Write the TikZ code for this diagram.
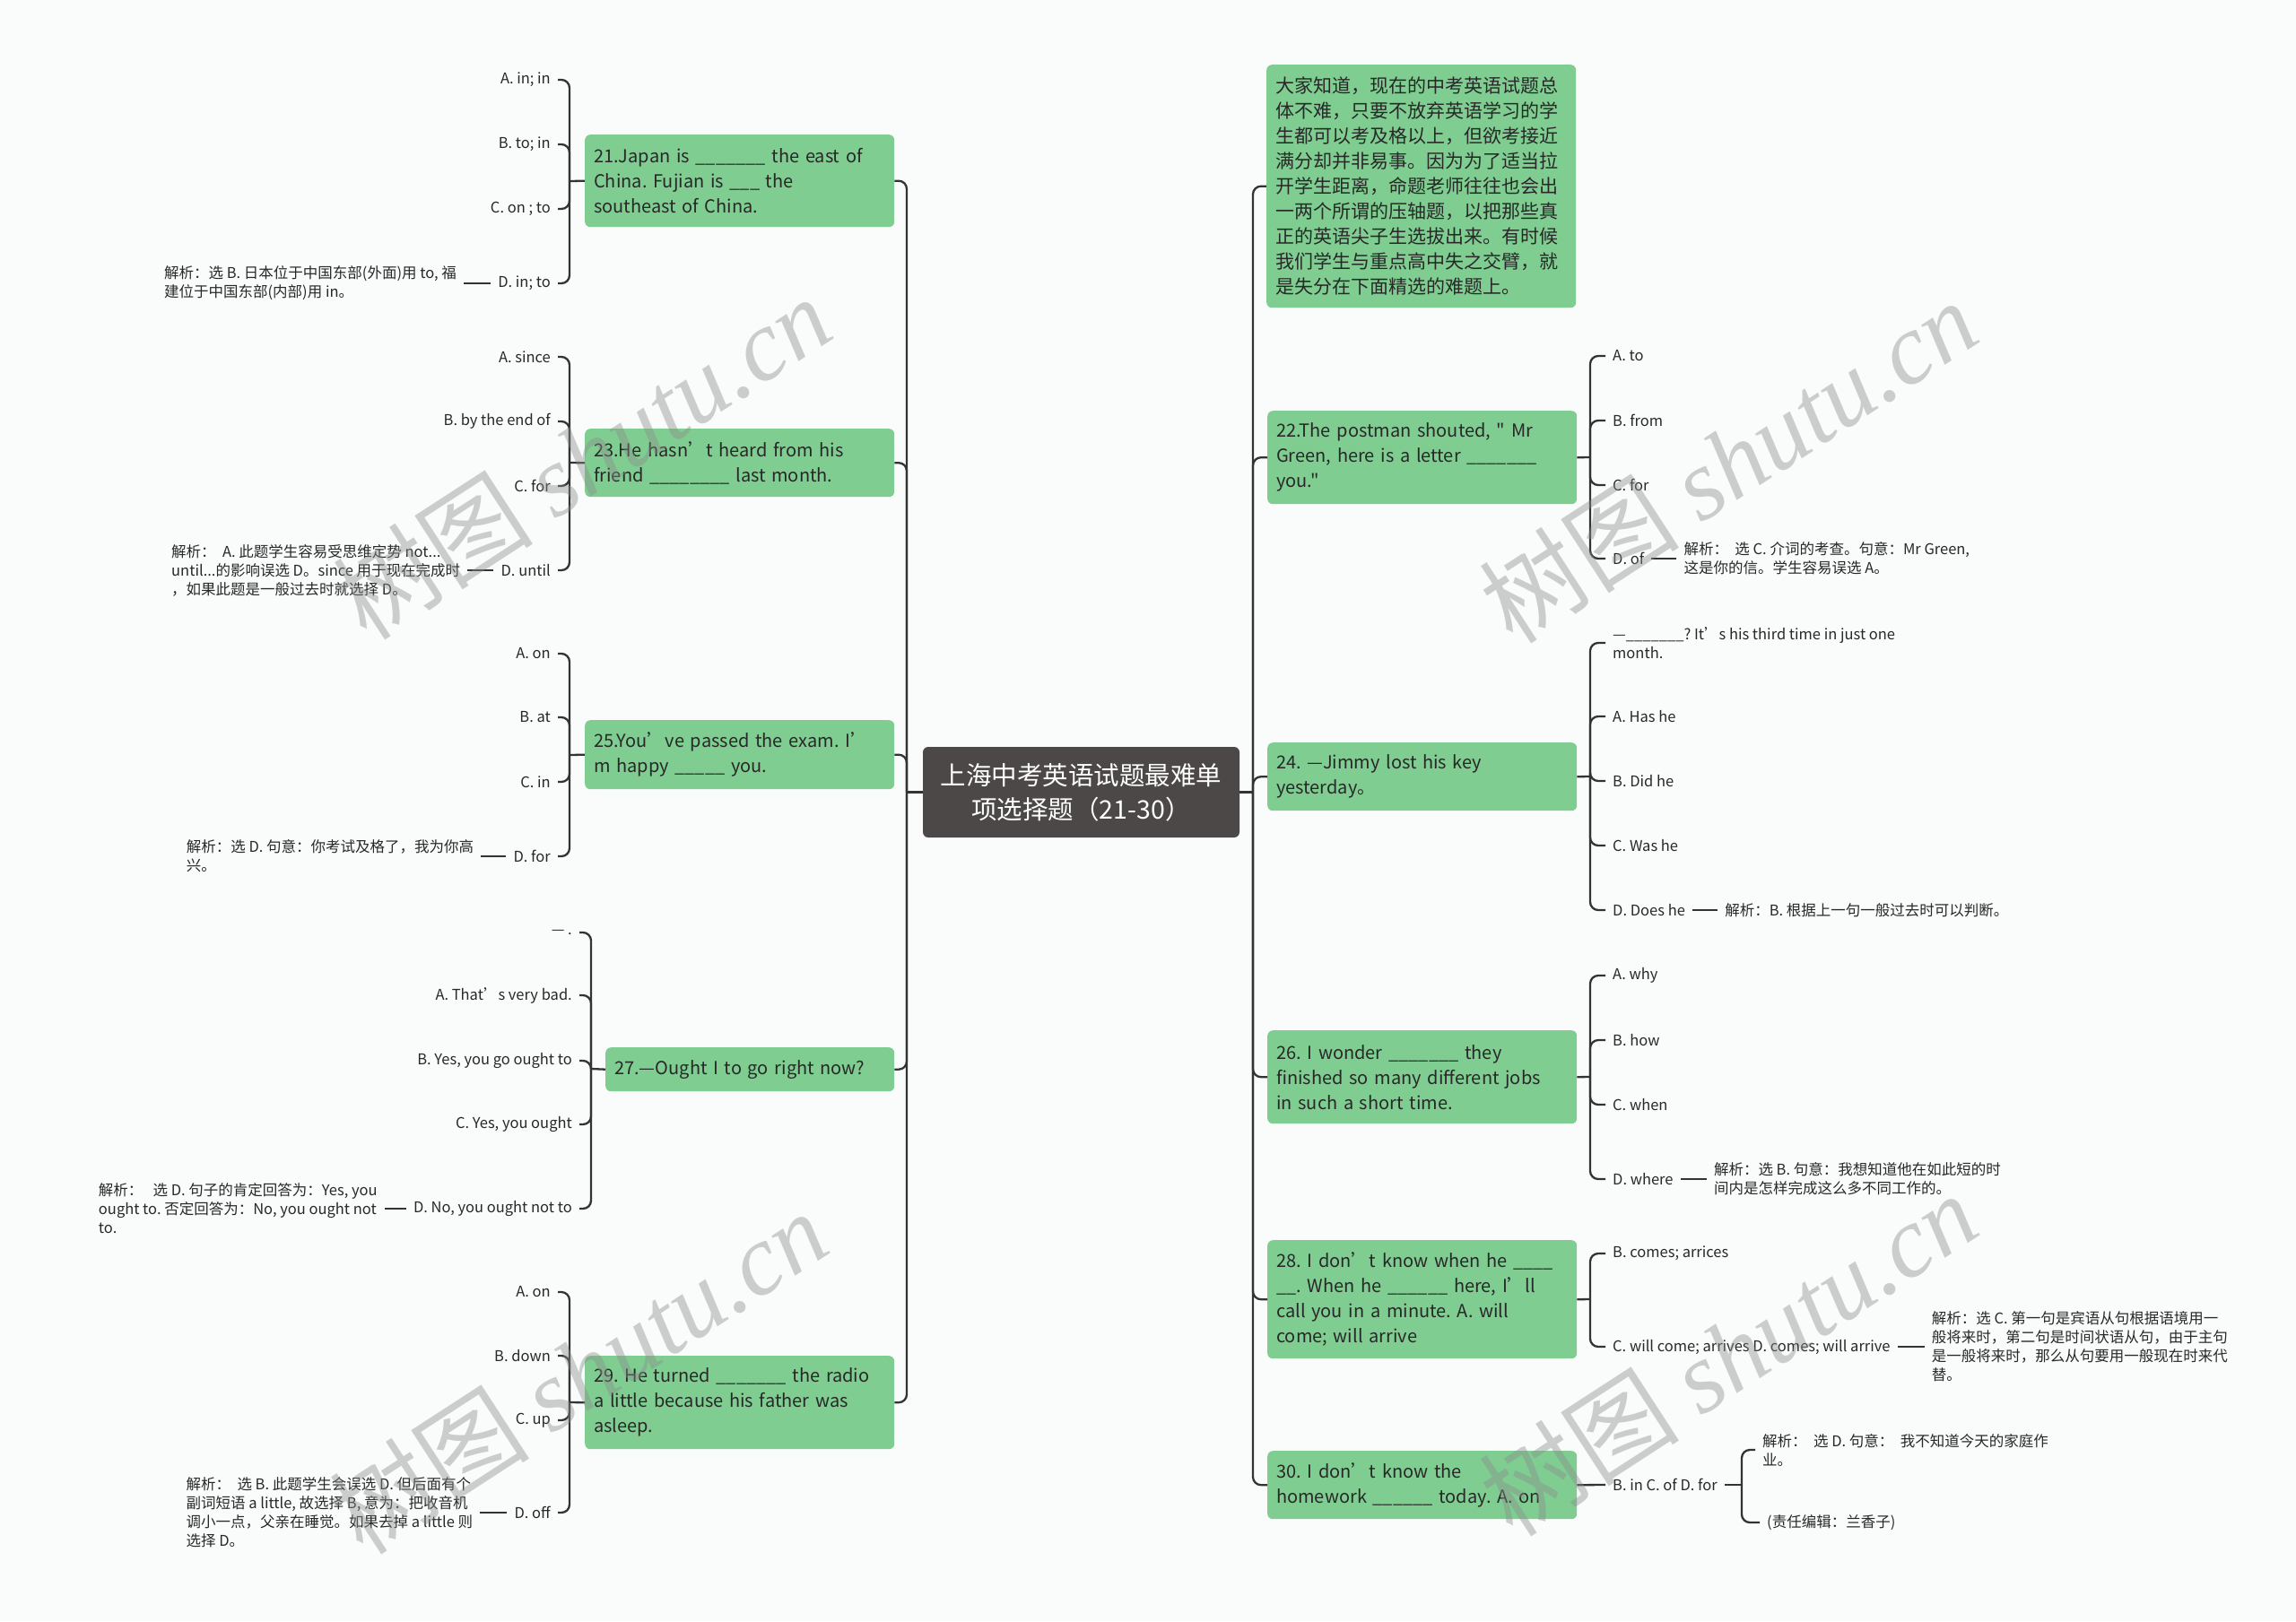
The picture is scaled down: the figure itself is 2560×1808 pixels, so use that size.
\documentclass[tikz,border=0pt]{standalone}
\usepackage{fontspec}
\setmainfont{Noto Sans CJK SC}[Ligatures=TeXOff]
\newfontfamily\wmlatin{Liberation Serif}
\usetikzlibrary{positioning}
\definecolor{bgc}{RGB}{250,252,252}
\definecolor{boxg}{RGB}{127,205,145}
\definecolor{rootc}{RGB}{77,72,72}
\definecolor{linec}{RGB}{51,51,51}
\definecolor{txtc}{RGB}{40,40,40}
\definecolor{wmc}{RGB}{140,140,140}
\frenchspacing
\begin{document}
\begin{tikzpicture}[x=1pt,y=-1pt,
  topicbox/.style={fill=boxg, rounded corners=6pt, text=txtc, font=\fontsize{20}{28}\selectfont\frenchspacing,
    align=left, text width=325pt, inner xsep=10pt, inner ysep=0pt, anchor=north west},
  rootbox/.style={fill=rootc, rounded corners=6pt, text=white, font=\fontsize{28.5}{38}\selectfont,
    align=center, inner sep=0pt},
  opt/.style={text=txtc, font=\fontsize{16.5}{21}\selectfont\frenchspacing, inner xsep=8pt, inner ysep=2pt},
  lopt/.style={opt, anchor=east},
  ropt/.style={opt, anchor=west},
  expl/.style={opt, align=left},
  conn/.style={draw=linec, line width=2.3pt, rounded corners=9pt},
  wm/.style={text=wmc, text opacity=0.42, font=\fontsize{112}{112}\selectfont, inner sep=0pt}]
\fill[bgc] (0,0) rectangle (2560,1808);
\useasboundingbox (0,0) rectangle (2560,1808);

% root
\node[rootbox, minimum width=353pt, minimum height=101pt] (root) at (1205.5,883.5) {上海中考英语试题最难单\\项选择题（21-30）};
\coordinate (jl) at (1011,883.5);
\coordinate (jr) at (1397,883.5);

% ---------- left topics ----------
\node[topicbox, minimum height=103pt] (q21) at (652,150) {\mbox{21.Japan is \_\_\_\_\_\_\_ the east of}\\\mbox{China. Fujian is \_\_\_ the}\\\mbox{southeast of China.}};
\node[topicbox, minimum height=76pt] (q23) at (652,478) {\mbox{23.He hasn’t heard from his}\\\mbox{friend \_\_\_\_\_\_\_\_ last month.}};
\node[topicbox, minimum height=77pt] (q25) at (652,803) {\mbox{25.You’ve passed the exam. I’}\\\mbox{m happy \_\_\_\_\_ you.}};
\node[topicbox, text width=302pt, minimum height=49pt] (q27) at (675,1168) {\mbox{27.—Ought I to go right now?}};
\node[topicbox, minimum height=104pt] (q29) at (652,1512) {\mbox{29. He turned \_\_\_\_\_\_\_ the radio}\\\mbox{a little because his father was}\\\mbox{asleep.}};

% ---------- right topics ----------
\node[topicbox, font=\fontsize{21}{28}\selectfont, minimum height=271pt] (intro) at (1412,72) {大家知道，现在的中考英语试题总\\体不难，只要不放弃英语学习的学\\生都可以考及格以上，但欲考接近\\满分却并非易事。因为为了适当拉\\开学生距离，命题老师往往也会出\\一两个所谓的压轴题，以把那些真\\正的英语尖子生选拔出来。有时候\\我们学生与重点高中失之交臂，就\\是失分在下面精选的难题上。};
\node[topicbox, minimum height=104pt] (q22) at (1413,458) {\mbox{22.The postman shouted, " Mr}\\\mbox{Green, here is a letter \_\_\_\_\_\_\_}\\\mbox{you."}};
\node[topicbox, minimum height=76pt] (q24) at (1413,828) {\mbox{24. —Jimmy lost his key}\\\mbox{yesterday。}};
\node[topicbox, minimum height=104pt] (q26) at (1413,1149) {\mbox{26. I wonder \_\_\_\_\_\_\_ they}\\\mbox{finished so many different jobs}\\\mbox{in such a short time.}};
\node[topicbox, minimum height=132pt] (q28) at (1413,1383) {\mbox{28. I don’t know when he \_\_\_\_}\\\mbox{\_\_. When he \_\_\_\_\_\_ here, I’ll}\\\mbox{call you in a minute. A. will}\\\mbox{come; will arrive}};
\node[topicbox, minimum height=76pt] (q30) at (1413,1618) {\mbox{30. I don’t know the}\\\mbox{homework \_\_\_\_\_\_ today. A. on}};

% ---------- trunks ----------
\draw[conn] (root.west) -- (jl);
\foreach \t in {q21,q23,q25,q27,q29} \draw[conn] (jl) |- (\t.east);
\draw[conn] (root.east) -- (jr);
\foreach \t in {intro,q22,q24,q26,q28,q30} \draw[conn] (jr) |- (\t.west);

% ---------- Q21 options ----------
\coordinate (j21) at (635,202);
\node[lopt] (a21) at (622,89) {A. in; in};
\node[lopt] (b21) at (622,161) {B. to; in};
\node[lopt] (c21) at (622,233) {C. on ; to};
\node[lopt] (d21) at (622,316) {D. in; to};
\node[expl, anchor=east, left=30pt of d21] (e21) {解析：选 B. 日本位于中国东部(外面)用 to, 福\\建位于中国东部(内部)用 in。};
\draw[conn] (q21.west) -- (j21);
\foreach \o in {a21,b21,c21,d21} \draw[conn] (j21) |- (\o.east);
\draw[conn] (d21.west) -- (e21.east);

% ---------- Q23 options ----------
\coordinate (j23) at (635,516);
\node[lopt] (a23) at (622,398) {A. since};
\node[lopt] (b23) at (622,470) {B. by the end of};
\node[lopt] (c23) at (622,542) {C. for};
\node[lopt] (d23) at (622,636) {D. until};
\node[expl, left=29pt of d23] (e23) {解析：\ \ A. 此题学生容易受思维定势 not...\\until...的影响误选 D。since 用于现在完成时\\，如果此题是一般过去时就选择 D。};
\draw[conn] (q23.west) -- (j23);
\foreach \o in {a23,b23,c23,d23} \draw[conn] (j23) |- (\o.east);
\draw[conn] (d23.west) -- (e23.east);

% ---------- Q25 options ----------
\coordinate (j25) at (635,842);
\node[lopt] (a25) at (622,729) {A. on};
\node[lopt] (b25) at (622,800) {B. at};
\node[lopt] (c25) at (622,872) {C. in};
\node[lopt] (d25) at (622,955) {D. for};
\node[expl, left=28pt of d25] (e25) {解析：选 D. 句意：你考试及格了，我为你高\\兴。};
\draw[conn] (q25.west) -- (j25);
\foreach \o in {a25,b25,c25,d25} \draw[conn] (j25) |- (\o.east);
\draw[conn] (d25.west) -- (e25.east);

% ---------- Q27 options ----------
\coordinate (j27) at (659,1192);
\node[lopt] (o27) at (646,1040) {— .};
\node[lopt] (a27) at (646,1110) {A. That’s very bad.};
\node[lopt] (b27) at (646,1183) {B. Yes, you go ought to};
\node[lopt] (c27) at (646,1254) {C. Yes, you ought};
\node[lopt] (d27) at (646,1348) {D. No, you ought not to};
\node[expl, left=24pt of d27] (e27) {解析：\ \ \ 选 D. 句子的肯定回答为：Yes, you\\ought to. 否定回答为：No, you ought not\\to.};
\draw[conn] (q27.west) -- (j27);
\foreach \o in {o27,a27,b27,c27,d27} \draw[conn] (j27) |- (\o.east);
\draw[conn] (d27.west) -- (e27.east);

% ---------- Q29 options ----------
\coordinate (j29) at (635,1564);
\node[lopt] (a29) at (622,1441) {A. on};
\node[lopt] (b29) at (622,1512) {B. down};
\node[lopt] (c29) at (622,1584) {C. up};
\node[lopt] (d29) at (622,1687) {D. off};
\node[expl, left=30pt of d29] (e29) {解析：\ \ 选 B. 此题学生会误选 D. 但后面有个\\副词短语 a little, 故选择 B, 意为：把收音机\\调小一点，父亲在睡觉。如果去掉 a little 则\\选择 D。};
\draw[conn] (q29.west) -- (j29);
\foreach \o in {a29,b29,c29,d29} \draw[conn] (j29) |- (\o.east);
\draw[conn] (d29.west) -- (e29.east);

% ---------- Q22 options ----------
\coordinate (j22) at (1773,510);
\node[ropt] (a22) at (1790,397) {A. to};
\node[ropt] (b22) at (1790,469) {B. from};
\node[ropt] (c22) at (1790,541) {C. for};
\node[ropt] (d22) at (1790,623) {D. of};
\node[expl, right=28pt of d22] (e22) {解析：\ \ 选 C. 介词的考查。句意：Mr Green,\\这是你的信。学生容易误选 A。};
\draw[conn] (q22.east) -- (j22);
\foreach \o in {a22,b22,c22,d22} \draw[conn] (j22) |- (\o.west);
\draw[conn] (d22.east) -- (e22.west);

% ---------- Q24 options ----------
\coordinate (j24) at (1773,866);
\node[ropt, align=left] (o24) at (1790,717) {—\_\_\_\_\_\_\_? It’s his third time in just one\\month.};
\node[ropt] (a24) at (1790,799) {A. Has he};
\node[ropt] (b24) at (1790,871) {B. Did he};
\node[ropt] (c24) at (1790,943) {C. Was he};
\node[ropt] (d24) at (1790,1015) {D. Does he};
\node[expl, right=28pt of d24] (e24) {解析：B. 根据上一句一般过去时可以判断。};
\draw[conn] (q24.east) -- (j24);
\foreach \o in {o24,a24,b24,c24,d24} \draw[conn] (j24) |- (\o.west);
\draw[conn] (d24.east) -- (e24.west);

% ---------- Q26 options ----------
\coordinate (j26) at (1773,1201);
\node[ropt] (a26) at (1790,1088) {A. why};
\node[ropt] (b26) at (1790,1160) {B. how};
\node[ropt] (c26) at (1790,1232) {C. when};
\node[ropt] (d26) at (1790,1315) {D. where};
\node[expl, right=29pt of d26] (e26) {解析：选 B. 句意：我想知道他在如此短的时\\间内是怎样完成这么多不同工作的。};
\draw[conn] (q26.east) -- (j26);
\foreach \o in {a26,b26,c26,d26} \draw[conn] (j26) |- (\o.west);
\draw[conn] (d26.east) -- (e26.west);

% ---------- Q28 options ----------
\coordinate (j28) at (1773,1449);
\node[ropt] (b28) at (1790,1398) {B. comes; arrices};
\node[ropt] (c28) at (1790,1502) {C. will come; arrives D. comes; will arrive};
\node[expl, right=30pt of c28] (e28) {解析：选 C. 第一句是宾语从句根据语境用一\\般将来时，第二句是时间状语从句，由于主句\\是一般将来时，那么从句要用一般现在时来代\\替。};
\draw[conn] (q28.east) -- (j28);
\foreach \o in {b28,c28} \draw[conn] (j28) |- (\o.west);
\draw[conn] (c28.east) -- (e28.west);

% ---------- Q30 ----------
\node[ropt] (o30) at (1790,1656) {B. in C. of D. for};
\coordinate (j30) at (1942,1656);
\node[expl, anchor=west] (e30) at (1957,1617) {解析：\ \ 选 D. 句意：\ \ 我不知道今天的家庭作\\业。};
\node[expl, anchor=west] (f30) at (1962,1698) {(责任编辑：兰香子)};
\draw[conn] (q30.east) -- (o30.west);
\draw[conn] (o30.east) -- (j30);
\foreach \o in {e30,f30} \draw[conn] (j30) |- (\o.west);

% ---------- watermarks ----------
\foreach \p in {(649,510),(1927,514),(645,1530),(1927,1510)}
  \node[wm, rotate=33] at \p {树图 {\wmlatin\itshape shutu.cn}};
\end{tikzpicture}
\end{document}
